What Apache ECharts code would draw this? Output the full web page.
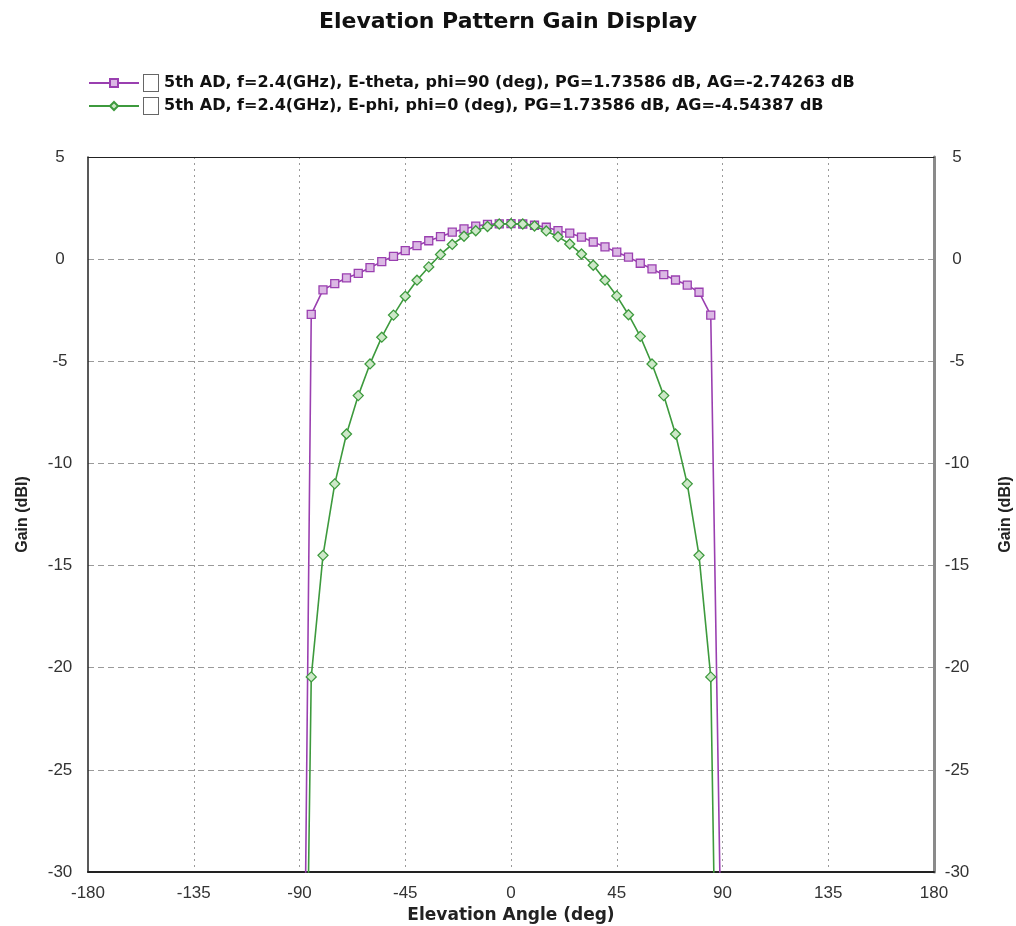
<!DOCTYPE html>
<html>
<head>
<meta charset="utf-8">
<script src="https://cdn.jsdelivr.net/npm/echarts@6/dist/echarts.min.js"></script>
<style>
  html, body { margin: 0; padding: 0; background: #ffffff; }
  #chart-container { width: 1016px; height: 926px; }
</style>
</head>
<body>
<div id="chart-container"></div>
<script>
var dom = document.getElementById("chart-container");
var myChart = echarts.init(dom, null, { renderer: "canvas" });

// elevation angles (deg), one sample every 5 deg
const angles = [
  -90, -85, -80, -75, -70, -65, -60, -55, -50, -45, -40, -35, -30, -25, -20, -15, -10, -5,
  0, 5, 10, 15, 20, 25, 30, 35, 40, 45, 50, 55, 60, 65, 70, 75, 80, 85, 90
];

// E-theta, phi=90 (purple)
const eThetaGain = [
  -60, -2.7, -1.5, -1.2, -0.92, -0.7, -0.42, -0.12, 0.14, 0.42, 0.66, 0.9, 1.1, 1.32, 1.48, 1.62, 1.7, 1.73,
  1.736, 1.72, 1.66, 1.56, 1.4, 1.27, 1.08, 0.84, 0.6, 0.34, 0.1, -0.2, -0.48, -0.76, -1.02, -1.27, -1.62, -2.74, -38
];

// E-phi, phi=0 (green)
const ePhiGain = [
  -62, -20.45, -14.5, -11.0, -8.56, -6.68, -5.13, -3.82, -2.74, -1.82, -1.03, -0.38, 0.23, 0.72, 1.12, 1.39, 1.6, 1.72,
  1.736, 1.72, 1.62, 1.38, 1.1, 0.74, 0.25, -0.3, -1.03, -1.8, -2.72, -3.78, -5.13, -6.68, -8.56, -11.0, -14.5, -20.45, -57
];

const seriesNames = [
  "5th AD, f=2.4(GHz), E-theta, phi=90 (deg), PG=1.73586 dB, AG=-2.74263 dB",
  "5th AD, f=2.4(GHz), E-phi, phi=0 (deg), PG=1.73586 dB, AG=-4.54387 dB"
];

const xTicks = { min: -180, max: 180, interval: 45 };
const yTicks = { min: -30, max: 5, interval: 5 };

const sansFont = "Liberation Sans, Arial, sans-serif";
const wideFont = "DejaVu Sans, Verdana, sans-serif";

function pairs(ys) {
  return angles.map(function (a, i) {
    return [a, ys[i]];
  });
}

function yAxisCfg(pos) {
  const left = pos === "left";
  return {
    type: "value",
    position: pos,
    min: yTicks.min,
    max: yTicks.max,
    interval: yTicks.interval,
    name: "Gain (dBI)",
    nameLocation: "middle",
    nameGap: left ? 57 : 64,
    nameRotate: 90,
    nameTextStyle: {
      color: "#222",
      fontSize: 16,
      fontWeight: "bold",
      fontFamily: sansFont,
    },
    axisLine: {
      show: true,
      onZero: false,
      lineStyle: left
        ? { color: "#222", width: 1.5 }
        : { color: "#8a8a8a", width: 3 },
    },
    axisTick: { show: false },
    axisLabel: {
      color: "#333",
      fontSize: 17,
      fontFamily: sansFont,
      align: "center",
      margin: left ? 28 : 23,
    },
    splitLine: {
      show: left,
      showMinLine: false,
      showMaxLine: false,
      lineStyle: { color: "#9a9a9a", type: [6, 4], width: 1 },
    },
  };
}

var option = {
  backgroundColor: "#ffffff",
  animation: false,
  title: {
    text: "Elevation Pattern Gain Display",
    left: "center",
    top: 6,
    textStyle: {
      color: "#111",
      fontSize: 22,
      fontWeight: "bold",
      fontFamily: wideFont,
    },
  },
  legend: {
    orient: "vertical",
    left: 88,
    top: 74,
    padding: 0,
    itemWidth: 50,
    itemHeight: 10,
    itemGap: 5,
    data: seriesNames,
    formatter: function (name) {
      return "{box|}{t|" + name + "}";
    },
    textStyle: {
      rich: {
        box: {
          width: 14,
          height: 16,
          borderColor: "#666",
          borderWidth: 1,
          backgroundColor: "#fff",
        },
        t: {
          color: "#111",
          fontSize: 16,
          fontWeight: "bold",
          fontFamily: wideFont,
          padding: [0, 0, 0, 6],
        },
      },
    },
  },
  grid: {
    left: 88,
    right: 82,
    top: 157,
    bottom: 54,
    outerBoundsMode: "none",
  },
  xAxis: [
    {
      type: "value",
      position: "bottom",
      min: xTicks.min,
      max: xTicks.max,
      interval: xTicks.interval,
      name: "Elevation Angle (deg)",
      nameLocation: "middle",
      nameGap: 33,
      nameTextStyle: {
        color: "#222",
        fontSize: 17,
        fontWeight: "bold",
        fontFamily: wideFont,
      },
      axisLine: { show: true, onZero: false, lineStyle: { color: "#222", width: 2 } },
      axisTick: { show: false },
      axisLabel: {
        color: "#333",
        fontSize: 17,
        fontFamily: sansFont,
        margin: 13,
      },
      splitLine: {
        show: true,
        showMinLine: false,
        showMaxLine: false,
        lineStyle: { color: "#9a9a9a", type: [2, 4], width: 1 },
      },
    },
    {
      type: "value",
      position: "top",
      min: xTicks.min,
      max: xTicks.max,
      interval: xTicks.interval,
      axisLine: { show: true, onZero: false, lineStyle: { color: "#222", width: 1 } },
      axisTick: { show: false },
      axisLabel: { show: false },
      splitLine: { show: false },
    },
  ],
  yAxis: [yAxisCfg("left"), yAxisCfg("right")],
  series: [
    {
      name: seriesNames[0],
      type: "line",
      xAxisIndex: 0,
      yAxisIndex: 0,
      data: pairs(eThetaGain),
      clip: true,
      symbol: "rect",
      symbolSize: 8,
      showAllSymbol: true,
      lineStyle: { color: "#9a3fb0", width: 1.6 },
      itemStyle: { color: "#dbb8e4", borderColor: "#9a3fb0", borderWidth: 1.3 },
      z: 2,
    },
    {
      name: seriesNames[1],
      type: "line",
      xAxisIndex: 0,
      yAxisIndex: 0,
      data: pairs(ePhiGain),
      clip: true,
      symbol: "diamond",
      symbolSize: [10, 10],
      showAllSymbol: true,
      lineStyle: { color: "#3d9a3d", width: 1.6 },
      itemStyle: { color: "#cde8c8", borderColor: "#3d9a3d", borderWidth: 1.3 },
      z: 3,
    },
  ],
};

myChart.setOption(option);
window.addEventListener("resize", myChart.resize);
</script>
</body>
</html>
